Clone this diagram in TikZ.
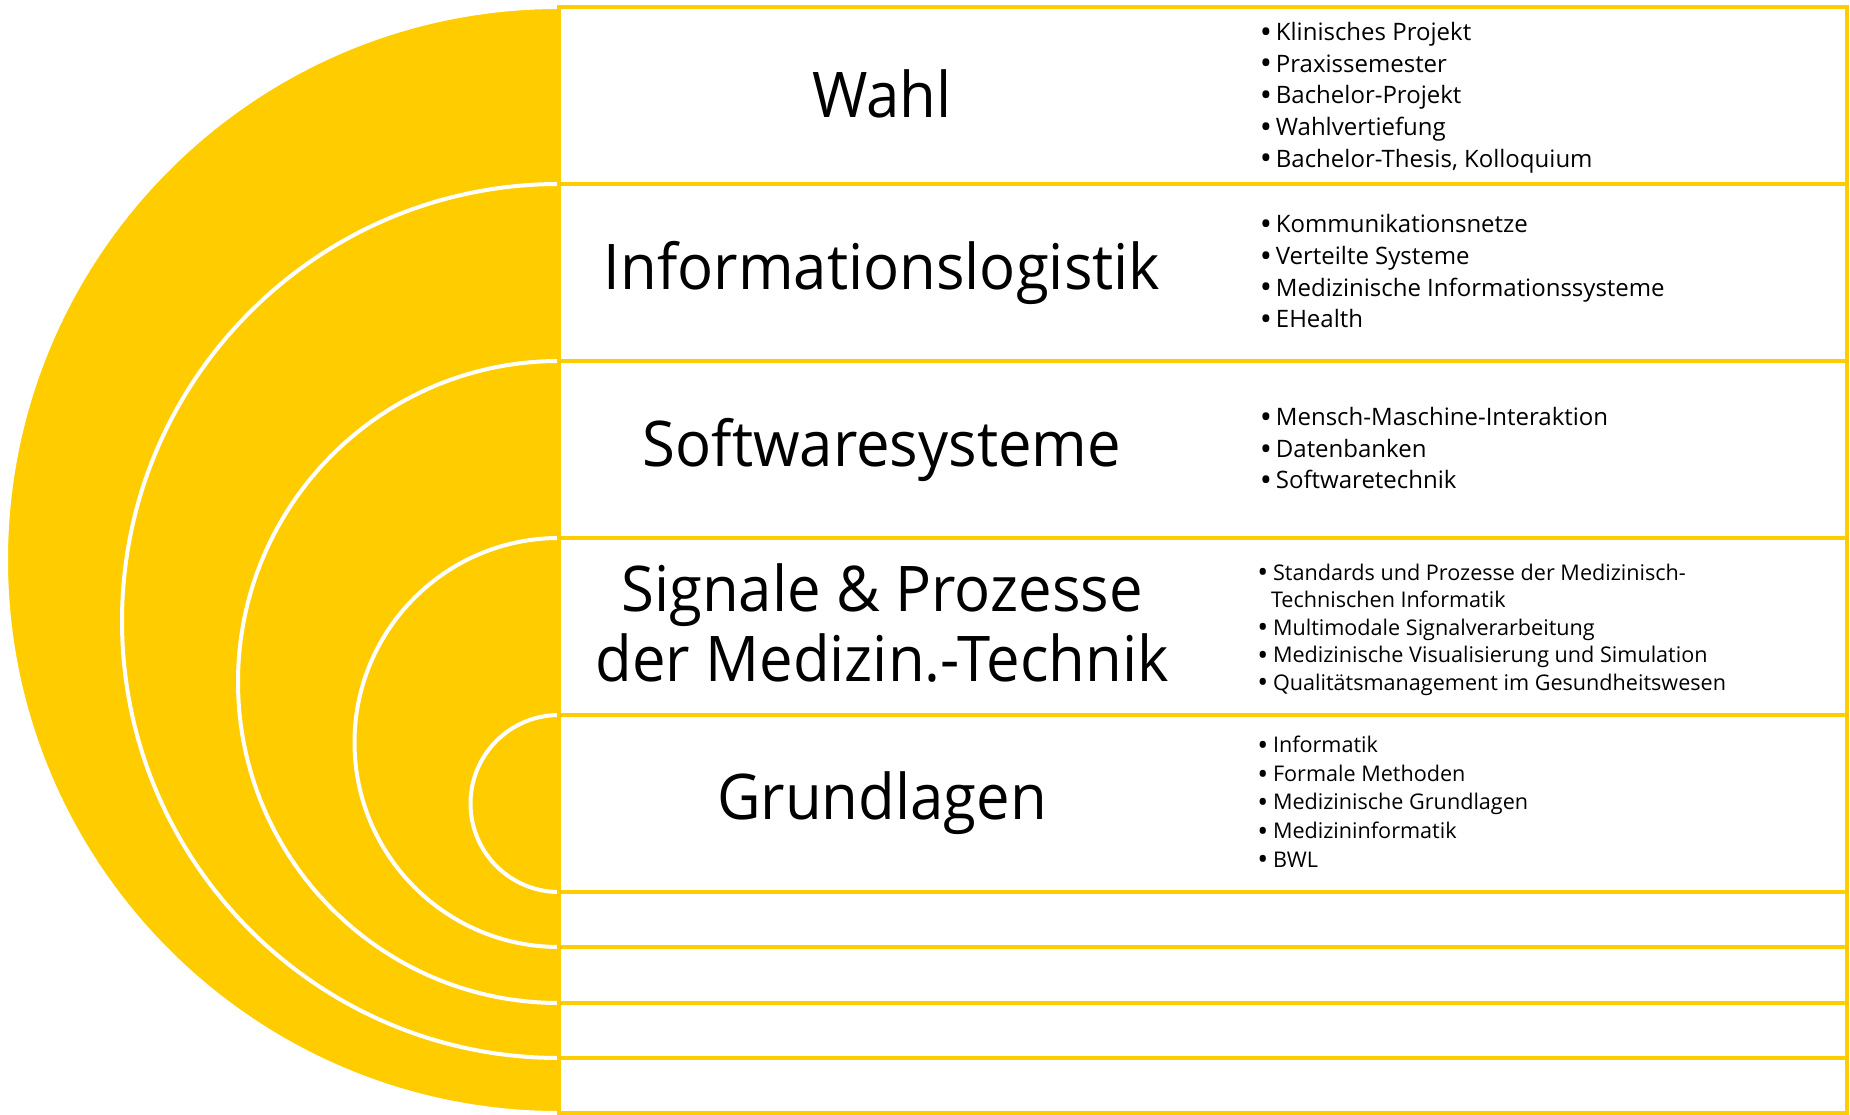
\documentclass[tikz,border=0pt]{standalone}
\usepackage{graphicx}
\usepackage{fontspec}
\setmainfont{Open Sans}
\newfontfamily\titlefont{Open Sans}[FakeStretch=0.95]
\newfontfamily\itemfont{Open Sans}
\definecolor{gelb}{RGB}{255,204,0}
\newcommand\itm[1]{\makebox[8pt][l]{\raisebox{-1.4pt}{\scalebox{1.35}{\textbullet}}}#1}
\newcommand\itmb[1]{\makebox[7.8pt][l]{\raisebox{-1.4pt}{\scalebox{1.35}{\textbullet}}}#1}
\begin{document}
\begin{tikzpicture}[x=0.5pt,y=0.5pt,
  halfdisk/.style={fill=gelb, draw=white, line width=2pt},
  rowline/.style={draw=gelb, fill=white, line width=2.3pt},
  title/.style={font=\titlefont\fontsize{31.5}{35}\selectfont, align=center, inner sep=0pt},
  items/.style={font=\itemfont\fontsize{12}{15.85}\selectfont, align=left, inner sep=0pt, anchor=west}]
\useasboundingbox (0,0) rectangle (1850,1114);
% nested half disks
\foreach \cy/\r in {554/553, 493/437, 432/321, 371.5/204.5, 310.5/88.5} {
  \filldraw[halfdisk] (559,{\cy+\r}) arc[start angle=90, end angle=270, radius=\r] -- cycle;
}
% row boxes
\foreach \t/\b in {1107/930, 930/753, 753/576, 576/399, 399/222, 222/167, 167/111, 111/56, 56/1} {
  \draw[rowline] (559,\t) rectangle (1847,\b);
}
% titles
\node[title] (t1) at (882,1020) {Wahl};
\node[title] (t2) at (882,841.5) {Informationslogistik};
\node[title] (t3) at (882,664.5) {Softwaresysteme};
\node[title] (t4) at (882,491) {Signale \& Prozesse\\der Medizin.-Technik};
\node[title] (t5) at (882,310.5) {Grundlagen};
% bullet lists
\node[items] (l1) at (1259.5,1016.5) {\itm{Klinisches Projekt}\\\itm{Praxissemester}\\\itm{Bachelor-Projekt}\\\itm{Wahlvertiefung}\\\itm{Bachelor-Thesis, Kolloquium}};
\node[items] (l2) at (1259.5,841.5) {\itm{Kommunikationsnetze}\\\itm{Verteilte Systeme}\\\itm{Medizinische Informationssysteme}\\\itm{EHealth}};
\node[items] (l3) at (1259.5,664.5) {\itm{Mensch-Maschine-Interaktion}\\\itm{Datenbanken}\\\itm{Softwaretechnik}};
\node[items, font=\itemfont\fontsize{10.8}{13.75}\selectfont] (l4) at (1257,484.5) {\itmb{Standards und Prozesse der Medizinisch-}\\\hspace*{6.8pt}Technischen Informatik\\\itmb{Multimodale Signalverarbeitung}\\\itmb{Medizinische Visualisierung und Simulation}\\\itmb{Qualitätsmanagement im Gesundheitswesen}};
\node[items, font=\itemfont\fontsize{10.8}{14.3}\selectfont] (l5) at (1257,311) {\itmb{Informatik}\\\itmb{Formale Methoden}\\\itmb{Medizinische Grundlagen}\\\itmb{Medizininformatik}\\\itmb{BWL}};
\end{tikzpicture}
\end{document}
